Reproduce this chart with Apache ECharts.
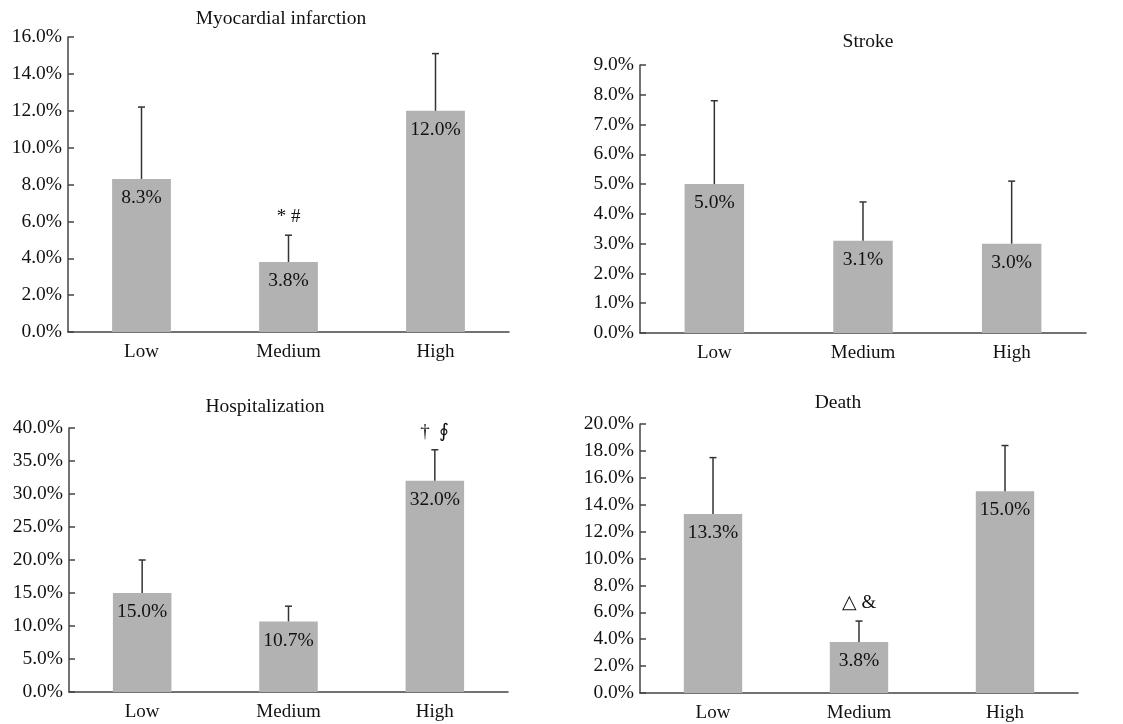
<!DOCTYPE html>
<html>
<head>
<meta charset="utf-8">
<script src="https://cdn.jsdelivr.net/npm/echarts@6/dist/echarts.min.js"></script>
<style>html,body{margin:0;padding:0;background:#fff;}#c{width:1123px;height:724px;}</style>
</head>
<body>
<div id="c"></div>
<script>
const categories = ['Low', 'Medium', 'High'];

const titles = ['Myocardial infarction', 'Stroke', 'Hospitalization', 'Death'];

const miValues = [8.3, 3.8, 12.0];
const miUpper = [12.2, 5.25, 15.1];
const miNotes = ['', '* #', ''];

const strokeValues = [5.0, 3.1, 3.0];
const strokeUpper = [7.8, 4.4, 5.1];
const strokeNotes = ['', '', ''];

const hospValues = [15.0, 10.7, 32.0];
const hospUpper = [20.0, 13.0, 36.7];
const hospNotes = ['', '', '\u2020  \u222E'];

const deathValues = [13.3, 3.8, 15.0];
const deathUpper = [17.5, 5.35, 18.4];
const deathNotes = ['', '\u25B3 &', ''];

const yMax = [16, 9, 40, 20];
const yInterval = [2, 1, 5, 2];

const panels = [
  {values: miValues, upper: miUpper, notes: miNotes},
  {values: strokeValues, upper: strokeUpper, notes: strokeNotes},
  {values: hospValues, upper: hospUpper, notes: hospNotes},
  {values: deathValues, upper: deathUpper, notes: deathNotes}
];

const FONT = '"Liberation Serif", "Times New Roman", serif';
const TXT = '#111';
const AX = '#444';

const grids = [
  {left: 68, right: 614, top: 37, bottom: 392},
  {left: 640, right: 37, top: 65, bottom: 391},
  {left: 69, right: 615, top: 428, bottom: 32},
  {left: 640, right: 45, top: 424, bottom: 31}
];
const titlePos = [[281, 19], [868, 42], [265, 407], [838, 403]];

const xAxes = [], yAxes = [], series = [], graphics = [];
panels.forEach((p, i) => {
  xAxes.push({
    type: 'category', gridIndex: i, data: categories,
    axisLine: {lineStyle: {color: AX, width: 1.5}},
    axisTick: {inside: true, length: 6, lineStyle: {color: AX, width: 1.5}},
    axisLabel: {fontFamily: FONT, fontSize: 19, color: TXT, margin: 11}
  });
  yAxes.push({
    type: 'value', gridIndex: i, min: 0, max: yMax[i], interval: yInterval[i],
    splitLine: {show: false},
    axisLine: {show: true, lineStyle: {color: AX, width: 1.5}},
    axisTick: {show: true, inside: true, length: 6, lineStyle: {color: AX, width: 1.5}},
    axisLabel: {fontFamily: FONT, fontSize: 19.5, color: TXT, margin: 6,
      formatter: v => v.toFixed(1) + '%'}
  });
  series.push({
    type: 'bar', xAxisIndex: i, yAxisIndex: i, barWidth: '40%',
    data: p.values,
    itemStyle: {color: '#b2b2b2'},
    label: {show: true, position: 'insideTop', distance: 9, fontFamily: FONT,
      fontSize: 19.5, color: TXT, formatter: d => d.value.toFixed(1) + '%'},
    z: 2
  });
  const notes = p.notes;
  series.push({
    type: 'custom', xAxisIndex: i, yAxisIndex: i, z: 3,
    data: p.values.map((v, k) => [k, v, p.upper[k]]),
    renderItem: (params, api) => {
      const b = api.coord([api.value(0), api.value(1)]);
      const t = api.coord([api.value(0), api.value(2)]);
      const children = [
        {type: 'line', shape: {x1: b[0], y1: b[1], x2: t[0], y2: t[1]},
          style: {stroke: '#333', lineWidth: 1.5}},
        {type: 'line', shape: {x1: t[0] - 3.5, y1: t[1], x2: t[0] + 3.5, y2: t[1]},
          style: {stroke: '#333', lineWidth: 1.5}}
      ];
      const note = notes[params.dataIndex];
      if (note) {
        children.push({type: 'text', x: t[0], y: t[1] - 18,
          style: {text: note, fontFamily: FONT, fontSize: 19, fill: TXT,
            align: 'center', verticalAlign: 'middle'}});
      }
      return {type: 'group', children};
    }
  });
  graphics.push({type: 'text', x: titlePos[i][0], y: titlePos[i][1],
    style: {text: titles[i], fontFamily: FONT, fontSize: 19.5, fill: TXT,
      align: 'center', verticalAlign: 'middle'}});
});

const chart = echarts.init(document.getElementById('c'));
chart.setOption({
  animation: false,
  backgroundColor: '#fff',
  grid: grids,
  xAxis: xAxes,
  yAxis: yAxes,
  series: series,
  graphic: graphics
});
</script>
</body>
</html>
